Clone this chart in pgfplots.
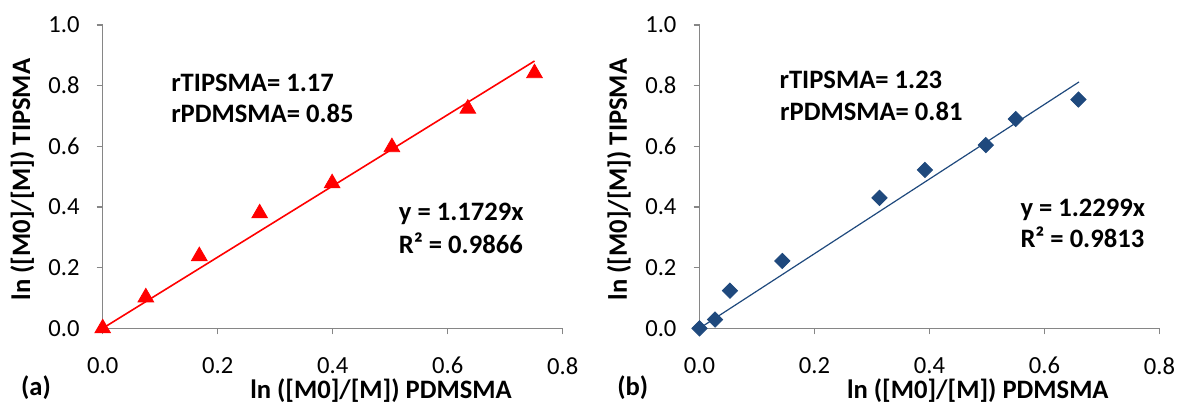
\documentclass[border=0pt]{standalone}
\usepackage{fontspec}
\setmainfont{Carlito}
\usepackage{pgfplots}
\pgfplotsset{compat=1.18}

\definecolor{exred}{RGB}{255,0,0}
\definecolor{exblue}{RGB}{31,73,125}
\definecolor{axgray}{RGB}{134,134,134}

\tikzset{
  note/.style={anchor=base west, font=\fontsize{13.3}{16}\selectfont\bfseries},
  panellabel/.style={font=\fontsize{13.3}{16}\selectfont\bfseries},
}

\pgfplotsset{
  panel/.style={
    scale only axis, width=230pt, height=151.7pt,
    xmin=0, xmax=0.8, ymin=0, ymax=1,
    axis lines*=left,
    axis line style={axgray, line width=0.7pt},
    xtick={0,0.2,0.4,0.6,0.8},
    ytick={0,0.2,0.4,0.6,0.8,1.0},
    tick align=outside, major tick length=3pt,
    tick style={axgray, line width=0.7pt},
    /pgf/number format/fixed,
    /pgf/number format/fixed zerofill,
    /pgf/number format/precision=1,
    /pgf/number format/assume math mode=true,
    ticklabel style={font=\fontsize{12.3}{15}\selectfont},
    yticklabel style={xshift=-5pt},
    xticklabel style={yshift=-8pt},
    xlabel style={at={(axis description cs:0.605,-0.205)}, anchor=center,
      font=\fontsize{13.3}{16}\selectfont\bfseries},
    ylabel style={at={(axis description cs:-0.175,0.49)}, anchor=center,
      font=\fontsize{13.3}{16}\selectfont\bfseries},
    xlabel={ln ([M0]/[M]) PDMSMA},
    ylabel={ln ([M0]/[M]) TIPSMA},
    clip=false,
  },
}

\begin{document}
\begin{tikzpicture}
\path[use as bounding box] (-51.35pt,-37.85pt) rectangle (537.15pt,164.15pt);

% (a) red triangles
\begin{axis}[panel]
  \addplot[only marks, mark=triangle*, mark size=4.5pt, color=exred] coordinates {
    (0,0) (0.075,0.102) (0.168,0.238) (0.273,0.379)
    (0.399,0.478) (0.503,0.597) (0.635,0.724) (0.751,0.841)
  };
  % trendline y = 1.1729x
  \addplot[exred, line width=0.8pt, no marks] coordinates {(0,0) (0.751,0.881)};
  \node[note] at (axis cs:0.107,0.779) {rTIPSMA= 1.17};
  \node[note] at (axis cs:0.107,0.677) {rPDMSMA= 0.85};
  \node[note] at (axis cs:0.503,0.354) {y = 1.1729x};
  \node[note] at (axis cs:0.503,0.248) {R² = 0.9866};
  \node[panellabel] at (rel axis cs:-0.145,-0.197) {(a)};
\end{axis}

% (b) blue diamonds
\begin{axis}[panel, at={(298.4pt,0pt)}]
  \addplot[only marks, mark=square*, mark options={rotate=45}, mark size=2.7pt, color=exblue] coordinates {
    (0,0) (0.027,0.029) (0.053,0.124) (0.144,0.222) (0.313,0.430)
    (0.392,0.522) (0.498,0.604) (0.550,0.690) (0.659,0.754)
  };
  % trendline y = 1.2299x
  \addplot[exblue, line width=0.6pt, no marks] coordinates {(0,0) (0.66,0.812)};
  \node[note] at (axis cs:0.127,0.790) {rTIPSMA= 1.23};
  \node[note] at (axis cs:0.128,0.685) {rPDMSMA= 0.81};
  \node[note] at (axis cs:0.546,0.369) {y = 1.2299x};
  \node[note] at (axis cs:0.546,0.267) {R² = 0.9813};
  \node[panellabel] at (rel axis cs:-0.145,-0.197) {(b)};
\end{axis}
\end{tikzpicture}
\end{document}
